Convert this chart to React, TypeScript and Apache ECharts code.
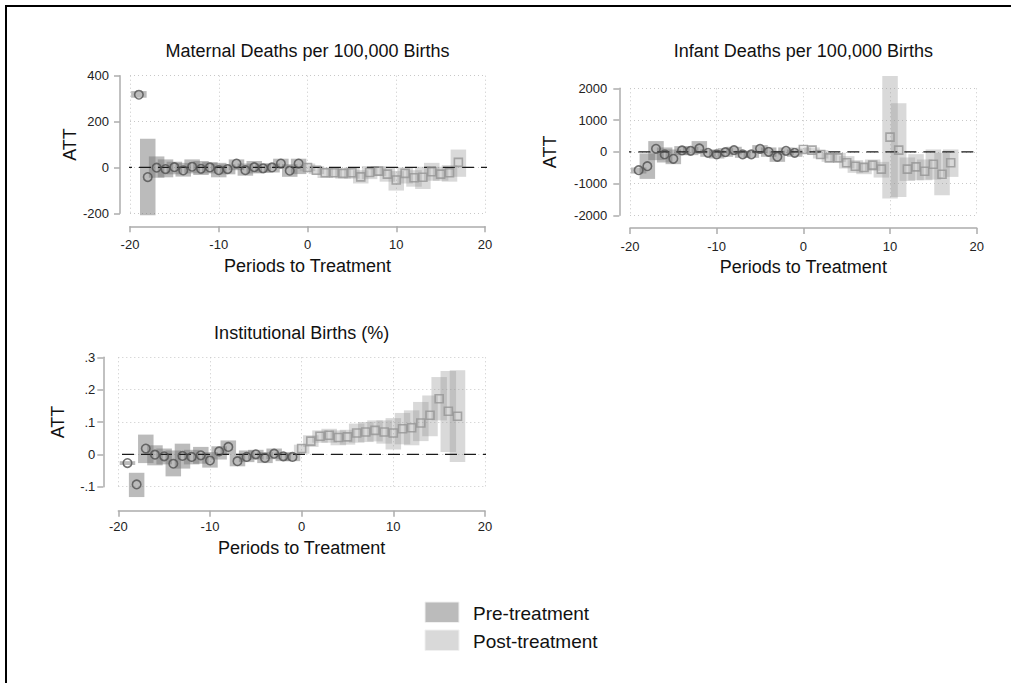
import React, { useEffect, useRef } from "react";
import * as echarts from "echarts";

const periodsPre = [-19, -18, -17, -16, -15, -14, -13, -12, -11, -10, -9, -8, -7, -6, -5, -4, -3, -2, -1];
const periodsPost = [0, 1, 2, 3, 4, 5, 6, 7, 8, 9, 10, 11, 12, 13, 14, 15, 16, 17];

const xTicks = [-20, -10, 0, 10, 20];

// Maternal Deaths per 100,000 Births
const matPreEst = [317, -42, -1, -7, 1, -13, 3, -6, 0, -12, -7, 17, -12, 1, -4, 0, 17, -14, 17];
const matPreLo = [304, -209, -45, -43, -30, -40, -26, -33, -26, -43, -30, -12, -36, -26, -23, -22, -4, -41, -29];
const matPreHi = [333, 125, 48, 35, 25, 20, 35, 28, 23, 20, 13, 35, 17, 28, 17, 17, 38, 14, 38];
const matPostEst = [0, -12, -23, -23, -26, -23, -41, -22, -16, -29, -55, -26, -45, -43, -19, -29, -23, 22];
const matPostLo = [-16, -29, -46, -43, -49, -49, -70, -51, -38, -62, -101, -70, -84, -94, -58, -58, -62, -41];
const matPostHi = [17, 6, 0, -4, -4, 0, -12, 6, 6, 0, -16, 0, -12, 3, 20, 3, 10, 78];
const matYTicks = [-200, 0, 200, 400];

// Infant Deaths per 100,000 Births
const infPreEst = [-579, -453, 95, -84, -221, 42, 32, 105, -32, -84, -11, 53, -84, -84, 95, 0, -158, 32, -32];
const infPreLo = [-684, -853, -263, -337, -390, -105, -105, -53, -158, -211, -158, -84, -190, -190, -53, -158, -316, -105, -158];
const infPreHi = [-495, -53, 337, 137, 74, 179, 158, 337, 74, 53, 116, 158, 32, 32, 211, 137, 32, 137, 74];
const infPostEst = [74, 53, -84, -190, -190, -347, -453, -495, -421, -547, 463, 53, -547, -474, -611, -390, -705, -347];
const infPostLo = [-32, -53, -211, -316, -316, -526, -663, -705, -600, -811, -1474, -1421, -916, -895, -895, -874, -1369, -790];
const infPostHi = [137, 137, 53, -32, -32, -137, -263, -316, -242, -316, 2390, 1527, -179, -74, -242, 74, -32, 74];
const infYTicks = [-2000, -1000, 0, 1000, 2000];

// Institutional Births (%)
const insPreEst = [-0.027, -0.093, 0.018, -0.001, -0.006, -0.029, -0.005, -0.008, -0.003, -0.019, 0.009, 0.023, -0.021, -0.008, 0, -0.011, 0.002, -0.006, -0.008];
const insPreLo = [-0.033, -0.132, -0.027, -0.034, -0.031, -0.068, -0.044, -0.031, -0.029, -0.041, -0.016, -0.001, -0.037, -0.024, -0.016, -0.027, -0.015, -0.021, -0.021];
const insPreHi = [-0.021, -0.057, 0.061, 0.028, 0.018, 0.012, 0.033, 0.014, 0.023, 0.007, 0.025, 0.043, -0.001, 0.012, 0.014, 0.007, 0.018, 0.007, 0.004];
const insPostEst = [0.018, 0.041, 0.056, 0.059, 0.052, 0.054, 0.066, 0.069, 0.074, 0.069, 0.066, 0.079, 0.082, 0.097, 0.121, 0.172, 0.133, 0.118];
const insPostLo = [0.002, 0.023, 0.036, 0.036, 0.028, 0.03, 0.036, 0.038, 0.04, 0.033, 0.015, 0.031, 0.028, 0.041, 0.056, 0.105, 0.007, -0.024];
const insPostHi = [0.03, 0.059, 0.074, 0.079, 0.074, 0.076, 0.095, 0.1, 0.105, 0.105, 0.112, 0.128, 0.136, 0.162, 0.182, 0.239, 0.258, 0.26];
const insYTicks = [-0.1, 0, 0.1, 0.2, 0.3];

const titles = ["Maternal Deaths per 100,000 Births", "Infant Deaths per 100,000 Births", "Institutional Births (%)"];
const xName = "Periods to Treatment";
const yName = "ATT";
const legendLabels = ["Pre-treatment", "Post-treatment"];

const FONT = "'Liberation Sans', Arial, Helvetica, sans-serif";
const PRE_FILL = "rgba(120,120,120,0.5)";
const POST_FILL = "rgba(150,150,150,0.36)";
const AXIS_COLOR = "#acacac";
const BAR_W = 15.5;

type Panel = {
  grid: { left: number; top: number; width: number; height: number };
  xOffset: number;
  yOffset: number;
  yTicks: number[];
  yInterval: number;
  yNameGap: number;
  xNameGap: number;
  xLabelMargin: number;
  yLabelMargin: number;
  yFmt: (v: number) => string;
  zeroExt: [number, number];
  pre: [number[], number[], number[]];
  post: [number[], number[], number[]];
};

const fmtDec = (v: number) => {
  const r = Math.round(v * 10) / 10;
  if (r === 0) return "0";
  return String(r).replace("0.", ".");
};

const panels: Panel[] = [
  {
    grid: { left: 130, top: 75.7, width: 355, height: 137.6 },
    xOffset: 13,
    yOffset: 10,
    yTicks: matYTicks,
    yInterval: 200,
    yNameGap: 24,
    xNameGap: 31,
    xLabelMargin: 12,
    yLabelMargin: 11,
    yFmt: (v) => String(v),
    zeroExt: [-21.13, 21.35],
    pre: [matPreEst, matPreLo, matPreHi],
    post: [matPostEst, matPostLo, matPostHi],
  },
  {
    grid: { left: 630, top: 88.3, width: 346.7, height: 127 },
    xOffset: 12.7,
    yOffset: 10.7,
    yTicks: infYTicks,
    yInterval: 1000,
    yNameGap: 60,
    xNameGap: 30,
    xLabelMargin: 12,
    yLabelMargin: 12,
    yFmt: (v) => String(v),
    zeroExt: [-21.23, 21.3],
    pre: [infPreEst, infPreLo, infPreHi],
    post: [infPostEst, infPostLo, infPostHi],
  },
  {
    grid: { left: 118.3, top: 357.3, width: 366.7, height: 129.4 },
    xOffset: 24,
    yOffset: 15,
    yTicks: insYTicks,
    yInterval: 0.1,
    yNameGap: 36,
    xNameGap: 28,
    xLabelMargin: 9,
    yLabelMargin: 8,
    yFmt: fmtDec,
    zeroExt: [-21.67, 21.3],
    pre: [insPreEst, insPreLo, insPreHi],
    post: [insPostEst, insPostLo, insPostHi],
  },
];

const barRender = (fill: string) => (params: any, api: any) => {
  const x = api.value(0);
  const lo = api.value(1);
  const hi = api.value(2);
  const pHi = api.coord([x, hi]);
  const pLo = api.coord([x, lo]);
  return {
    type: "rect",
    shape: { x: pHi[0] - BAR_W / 2, y: pHi[1], width: BAR_W, height: pLo[1] - pHi[1] },
    style: { fill },
  };
};

export default function App() {
  const ref = useRef<HTMLDivElement>(null);

  useEffect(() => {
    if (!ref.current) return;
    const chart = echarts.init(ref.current, null, { renderer: "svg" });

    const grids: any[] = [];
    const xAxes: any[] = [];
    const yAxes: any[] = [];
    const series: any[] = [];
    const graphics: any[] = [];

    panels.forEach((p, i) => {
      grids.push({ ...p.grid, containLabel: false });
      xAxes.push({
        gridIndex: i,
        type: "value",
        min: xTicks[0],
        max: xTicks[xTicks.length - 1],
        interval: 10,
        offset: p.xOffset,
        name: xName,
        nameLocation: "middle",
        nameGap: p.xNameGap,
        nameTextStyle: { fontFamily: FONT, fontSize: 18, color: "#111" },
        axisLine: { show: true, onZero: false, lineStyle: { color: AXIS_COLOR, width: 1.5 } },
        axisTick: { show: true, length: 6, lineStyle: { color: AXIS_COLOR, width: 1.5 } },
        axisLabel: { fontFamily: FONT, fontSize: 13, color: "#222", margin: p.xLabelMargin },
        splitLine: { show: true, lineStyle: { color: "#c8c8c8", type: [1, 3], width: 1 } },
      });
      yAxes.push({
        gridIndex: i,
        type: "value",
        min: p.yTicks[0],
        max: p.yTicks[p.yTicks.length - 1],
        interval: p.yInterval,
        offset: p.yOffset,
        name: yName,
        nameLocation: "middle",
        nameGap: p.yNameGap,
        nameTextStyle: { fontFamily: FONT, fontSize: 18, color: "#111" },
        axisLine: { show: true, onZero: false, lineStyle: { color: AXIS_COLOR, width: 1.5 } },
        axisTick: { show: true, length: 6, lineStyle: { color: AXIS_COLOR, width: 1.5 } },
        axisLabel: { fontFamily: FONT, fontSize: 13, color: "#222", margin: p.yLabelMargin, formatter: p.yFmt },
        splitLine: { show: true, lineStyle: { color: "#c8c8c8", type: [1, 3], width: 1 } },
      });

      const preBars = periodsPre.map((x, k) => [x, p.pre[1][k], p.pre[2][k]]);
      const postBars = periodsPost.map((x, k) => [x, p.post[1][k], p.post[2][k]]);
      series.push({
        type: "custom",
        name: legendLabels[0],
        xAxisIndex: i,
        yAxisIndex: i,
        clip: false,
        z: 2,
        itemStyle: { color: PRE_FILL },
        renderItem: barRender(PRE_FILL),
        encode: { x: 0, y: [1, 2] },
        data: preBars,
      });
      series.push({
        type: "custom",
        name: legendLabels[1],
        xAxisIndex: i,
        yAxisIndex: i,
        clip: false,
        z: 2,
        itemStyle: { color: POST_FILL },
        renderItem: barRender(POST_FILL),
        encode: { x: 0, y: [1, 2] },
        data: postBars,
      });
      series.push({
        type: "line",
        xAxisIndex: i,
        yAxisIndex: i,
        clip: false,
        z: 3,
        symbol: "none",
        silent: true,
        lineStyle: { color: "#1a1a1a", width: 1.2, type: [12, 7] },
        data: [
          [p.zeroExt[0], 0],
          [p.zeroExt[1], 0],
        ],
      });
      series.push({
        type: "scatter",
        xAxisIndex: i,
        yAxisIndex: i,
        clip: false,
        z: 4,
        symbol: "circle",
        symbolSize: 8.5,
        itemStyle: { color: "rgba(0,0,0,0)", borderColor: "#505050", borderWidth: 1.6 },
        data: periodsPre.map((x, k) => [x, p.pre[0][k]]),
      });
      series.push({
        type: "scatter",
        xAxisIndex: i,
        yAxisIndex: i,
        clip: false,
        z: 4,
        symbol: "rect",
        symbolSize: 8,
        itemStyle: { color: "rgba(0,0,0,0)", borderColor: "#959595", borderWidth: 1.6 },
        data: periodsPost.map((x, k) => [x, p.post[0][k]]),
      });

      graphics.push({
        type: "text",
        x: p.grid.left + p.grid.width / 2,
        y: [51, 51, 333][i],
        style: {
          text: titles[i],
          align: "center",
          verticalAlign: "middle",
          font: `18px ${FONT}`,
          fill: "#111",
        },
      });
    });

    // frame
    graphics.push({
      type: "rect",
      shape: { x: 6, y: 6, width: 1100, height: 800 },
      style: { fill: "none", stroke: "#000", lineWidth: 2 },
      z: 10,
    });
    // legend
    [PRE_FILL, POST_FILL].forEach((fill, k) => {
      graphics.push({
        type: "rect",
        shape: { x: 425, y: 602 + k * 28, width: 34, height: 20.5 },
        style: { fill, stroke: "#f0f0f0", lineWidth: 1 },
      });
      graphics.push({
        type: "text",
        x: 473,
        y: 613 + k * 28,
        style: {
          text: legendLabels[k],
          align: "left",
          verticalAlign: "middle",
          font: `19px ${FONT}`,
          fill: "#111",
        },
      });
    });

    chart.setOption({
      animation: false,
      backgroundColor: "#fff",
      grid: grids,
      xAxis: xAxes,
      yAxis: yAxes,
      series,
      graphic: graphics,
    });

    return () => chart.dispose();
  }, []);

  return (
    <div
      ref={ref}
      style={{ position: "fixed", left: 0, top: 0, width: 1011, height: 683, background: "#fff" }}
    />
  );
}
